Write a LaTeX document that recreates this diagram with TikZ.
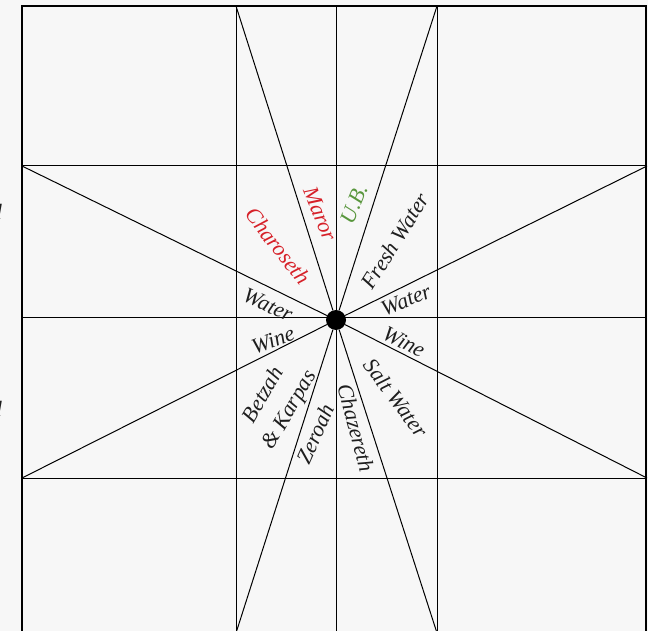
\documentclass[tikz,border=0pt]{standalone}
\usepackage{fontspec}
\setmainfont{Liberation Serif}
\definecolor{paper}{RGB}{247, 247, 247}
\definecolor{bitter}{RGB}{214, 32, 40}
\definecolor{leaf}{RGB}{88, 150, 60}
\definecolor{ink}{RGB}{30, 30, 30}

\begin{document}
\begin{tikzpicture}[x=1pt, y=-1pt,
   frame/.style={draw=black, line width=2.5},
   gridline/.style={draw=black, line width=1},
   itemtext/.style={font=\fontsize{22}{30}\selectfont\itshape, text=ink,
                    inner sep=0, align=center},
   itemred/.style={itemtext, text=bitter},
   itemgreen/.style={itemtext, text=leaf},
   centre/.style={circle, fill=black, inner sep=0, minimum size=20}
  ]

  \useasboundingbox[fill=paper] (0, 0) rectangle (648, 631);

  % plate grid
  \coordinate (T1) at (236, 6);   \coordinate (TM) at (336, 6);   \coordinate (T2) at (437, 6);
  \coordinate (B1) at (236, 633); \coordinate (BM) at (336, 633); \coordinate (B2) at (437, 633);
  \coordinate (L1) at (22, 166);  \coordinate (LM) at (22, 317);  \coordinate (L2) at (22, 478);
  \coordinate (R1) at (647, 166); \coordinate (RM) at (647, 317); \coordinate (R2) at (647, 478);

  \node (C) at (336, 320) [centre] {};

  \foreach \B/\E in {T1/B1, TM/BM, T2/B2, L1/R1, LM/RM, L2/R2} {
    \draw[gridline] (\B) -- (\E);
  }
  \foreach \E in {T1, T2, B1, B2, L1, L2, R1, R2} {
    \draw[gridline] (C) -- (\E);
  }

  \draw[frame] (22, 6) rectangle (646, 634);

  % upper half
  \node (N1) at (278, 246) [itemred, rotate=-52] {Charoseth};
  \node (N2) at (320, 214) [itemred, rotate=-68] {Maror};
  \node (N3) at (354, 204) [itemgreen, rotate=68] {U.B.};
  \node (N4) at (395, 241) [itemtext, rotate=58] {Fresh Water};
  \node (N5) at (268, 305) [itemtext, rotate=-24] {Water};
  \node (N6) at (406, 300) [itemtext, rotate=22] {Water};

  % lower half
  \node (N7) at (273, 340) [itemtext, rotate=20] {Wine};
  \node (N8) at (404, 342) [itemtext, rotate=-27] {Wine};
  \node (N9) at (277, 403) [itemtext, rotate=60] {Betzah\\ \& Karpas};
  \node (N10) at (315, 434) [itemtext, rotate=66] {Zeroah};
  \node (N11) at (356, 428) [itemtext, rotate=-75] {Chazereth};
  \node (N12) at (396, 398) [itemtext, rotate=-53] {Salt Water};

  % cut-off words at the left edge
  \node (D1) at (2, 220) [itemtext, anchor=base east] {d};
  \node (D2) at (2, 416) [itemtext, anchor=base east] {d};

\end{tikzpicture}
\end{document}
